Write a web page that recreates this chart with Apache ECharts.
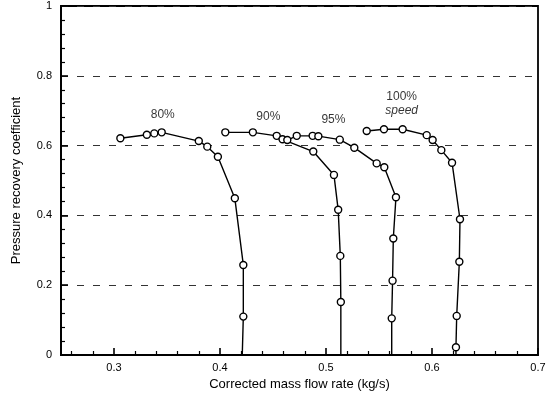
<!DOCTYPE html>
<html>
<head>
<meta charset="utf-8">
<script src="https://cdn.jsdelivr.net/npm/echarts@6/dist/echarts.min.js"></script>
<style>
html,body{margin:0;padding:0;background:#fff;}
#chart{width:555px;height:398px;}
</style>
</head>
<body>
<div id="chart"></div>
<script>
// ---- data ----
const flow80 = [0.306, 0.331, 0.338, 0.345, 0.380, 0.388, 0.398, 0.414, 0.422, 0.422, 0.421];
const coef80 = [0.621, 0.631, 0.635, 0.638, 0.613, 0.597, 0.568, 0.449, 0.258, 0.110, 0];

const flow90 = [0.405, 0.431, 0.4535, 0.459, 0.488, 0.5075, 0.5115, 0.5135, 0.514, 0.514];
const coef90 = [0.638, 0.638, 0.628, 0.618, 0.583, 0.516, 0.416, 0.284, 0.152, 0];

const flow95 = [0.4635, 0.4724, 0.4874, 0.4928, 0.513, 0.5267, 0.5478, 0.555, 0.566, 0.5635, 0.5628, 0.562, 0.562];
const coef95 = [0.616, 0.628, 0.628, 0.627, 0.617, 0.594, 0.549, 0.538, 0.452, 0.334, 0.213, 0.105, 0];

const flow100 = [0.5384, 0.5547, 0.5723, 0.595, 0.6006, 0.6088, 0.6189, 0.6264, 0.6258, 0.6233, 0.6226, 0.6226];
const coef100 = [0.642, 0.647, 0.647, 0.630, 0.616, 0.587, 0.551, 0.389, 0.267, 0.112, 0.022, 0];

const labelTexts = ['80%', '90%', '95%', '100%', 'speed'];
const labelFlow  = [0.346, 0.4456, 0.507, 0.5714, 0.5714];
const labelCoef  = [0.688, 0.684, 0.673, 0.740, 0.700];

const xTickLabels = [0.3, 0.4, 0.5, 0.6, 0.7];

// ---- build ----
const FONT = 'Liberation Sans';
function curve(xs, ys) {
  return xs.map((x, i) => {
    const item = { value: [x, ys[i]] };
    if (ys[i] === 0) item.symbol = 'none';
    return item;
  });
}
const minorX = [];
for (let k = 26; k < 70; k += 2) {
  if (k % 10 !== 0) minorX.push(k / 100);
}

const seriesBase = {
  type: 'line',
  symbol: 'circle',
  symbolSize: 7,
  itemStyle: { color: '#fff', borderColor: '#000', borderWidth: 1.4 },
  lineStyle: { color: '#000', width: 1.4 },
  animation: false,
  z: 3
};

const chart = echarts.init(document.getElementById('chart'));
chart.setOption({
  animation: false,
  backgroundColor: '#fff',
  grid: {
    left: 61, right: 17, top: 6, bottom: 43,
    show: true, borderColor: '#000', borderWidth: 1.8, backgroundColor: 'transparent'
  },
  xAxis: [{
    type: 'value', min: 0.25, max: 0.7,
    axisLine: { show: true, onZero: false, lineStyle: { color: '#000', width: 1.8 } },
    axisTick: { show: true, inside: true, length: 7, customValues: xTickLabels, lineStyle: { color: '#000', width: 1.6 } },
    axisLabel: { customValues: xTickLabels, color: '#000', fontFamily: FONT, fontSize: 11, margin: 7,
      formatter: v => String(Math.round(v * 10) / 10) },
    splitLine: { show: false },
    name: 'Corrected mass flow rate (kg/s)',
    nameLocation: 'middle', nameGap: 22,
    nameTextStyle: { color: '#000', fontFamily: FONT, fontSize: 13 }
  }, {
    type: 'value', min: 0.25, max: 0.7, position: 'bottom',
    axisLine: { show: false },
    axisTick: { show: true, inside: true, length: 4, customValues: minorX, lineStyle: { color: '#000', width: 1.2 } },
    axisLabel: { show: false },
    splitLine: { show: false }
  }],
  yAxis: {
    type: 'value', min: 0, max: 1, interval: 0.2,
    axisLine: { show: true, lineStyle: { color: '#000', width: 1.8 } },
    axisTick: { show: true, inside: true, length: 7, lineStyle: { color: '#000', width: 1.6 } },
    minorTick: { show: true, splitNumber: 5, length: 4, lineStyle: { color: '#000', width: 1.2 } },
    axisLabel: { color: '#000', fontFamily: FONT, fontSize: 11, margin: 9 },
    splitLine: { show: true, lineStyle: { color: '#333', width: 1, type: [7, 9] } },
    name: 'Pressure recovery coefficient',
    nameLocation: 'middle', nameGap: 38,
    nameTextStyle: { color: '#000', fontFamily: FONT, fontSize: 13 }
  },
  series: [
    Object.assign({}, seriesBase, { name: '80%', data: curve(flow80, coef80) }),
    Object.assign({}, seriesBase, { name: '90%', data: curve(flow90, coef90) }),
    Object.assign({}, seriesBase, { name: '95%', data: curve(flow95, coef95) }),
    Object.assign({}, seriesBase, { name: '100%', data: curve(flow100, coef100) }),
    {
      type: 'scatter', symbolSize: 1, silent: true, z: 4,
      itemStyle: { color: 'rgba(0,0,0,0)' },
      label: { show: true, position: 'inside', color: '#000', fontFamily: FONT, fontSize: 12,
        formatter: p => p.data.text },
      data: labelTexts.map((t, i) => ({
        value: [labelFlow[i], labelCoef[i]], text: t,
        label: t === 'speed' ? { fontStyle: 'italic' } : {}
      }))
    }
  ]
});
</script>
</body>
</html>
